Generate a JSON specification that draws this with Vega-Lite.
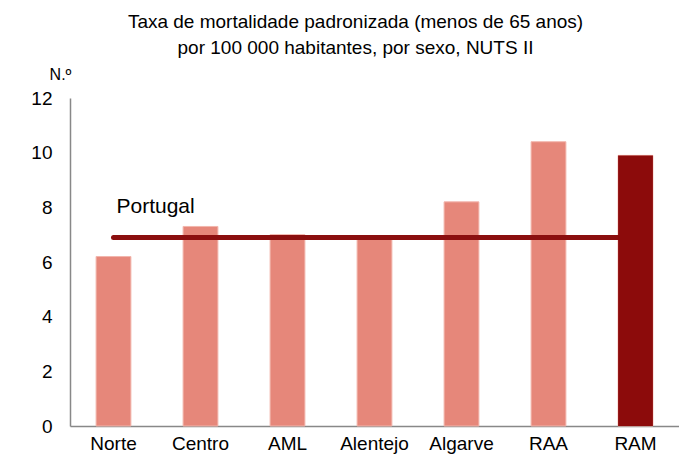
{
  "$schema": "https://vega.github.io/schema/vega-lite/v6.json",
  "width": 609,
  "height": 328,
  "autosize": {"type": "none"},
  "padding": {"left": 70, "top": 98, "right": 0, "bottom": 33},
  "background": "white",
  "config": {
    "view": {"stroke": null},
    "font": "Liberation Sans"
  },
  "title": {
    "text": ["Taxa de mortalidade padronizada (menos de 65 anos)", "por 100 000 habitantes, por sexo, NUTS II"],
    "fontSize": 19,
    "fontWeight": "normal",
    "font": "Liberation Sans",
    "color": "#000000",
    "lineHeight": 26,
    "anchor": "middle",
    "dx": -19,
    "offset": 8
  },
  "data": {
    "values": [
      {"region": "Norte", "value": 6.2, "portugal": 6.9},
      {"region": "Centro", "value": 7.3, "portugal": 6.9},
      {"region": "AML", "value": 7.0, "portugal": 6.9},
      {"region": "Alentejo", "value": 6.9, "portugal": 6.9},
      {"region": "Algarve", "value": 8.2, "portugal": 6.9},
      {"region": "RAA", "value": 10.4, "portugal": 6.9},
      {"region": "RAM", "value": 9.9, "portugal": 6.9}
    ]
  },
  "encoding": {
    "x": {
      "field": "region",
      "type": "nominal",
      "sort": null,
      "scale": {"paddingInner": 0.6, "paddingOuter": 0.3},
      "axis": {
        "title": null,
        "labelAngle": 0,
        "labelFontSize": 19,
        "labelColor": "#000000",
        "labelPadding": 8,
        "ticks": false,
        "domainColor": "#888888",
        "domainWidth": 1.5
      }
    }
  },
  "layer": [
    {
      "mark": {"type": "bar", "color": "#E6877A", "stroke": "#F2B5AC", "strokeWidth": 1},
      "encoding": {
        "y": {
          "field": "value",
          "type": "quantitative",
          "scale": {"domain": [0, 12], "nice": false},
          "axis": {
            "values": [0, 2, 4, 6, 8, 10, 12],
            "title": "N.º",
            "titleAngle": 0,
            "titleAlign": "center",
            "titleBaseline": "middle",
            "titleX": -10,
            "titleY": -24,
            "titleFontSize": 16,
            "titleFontWeight": "normal",
            "titleColor": "#000000",
            "labelFontSize": 19,
            "labelColor": "#000000",
            "labelPadding": 18,
            "ticks": false,
            "grid": false,
            "domainColor": "#888888",
            "domainWidth": 1.5
          }
        }
      }
    },
    {
      "mark": {"type": "line", "color": "#8B0F0F", "strokeWidth": 5, "strokeCap": "round"},
      "encoding": {
        "y": {"field": "portugal", "type": "quantitative"}
      }
    },
    {
      "transform": [{"filter": "datum.region === 'RAM'"}],
      "mark": {"type": "bar", "color": "#8C0B0B"},
      "encoding": {
        "y": {"field": "value", "type": "quantitative"}
      }
    },
    {
      "data": {"values": [{"region": "Norte", "pos": 8.0, "label": "Portugal"}]},
      "mark": {"type": "text", "align": "left", "baseline": "middle", "fontSize": 21, "color": "#000000", "dx": 3},
      "encoding": {
        "x": {"field": "region", "type": "nominal"},
        "y": {"field": "pos", "type": "quantitative"},
        "text": {"field": "label"}
      }
    }
  ]
}
